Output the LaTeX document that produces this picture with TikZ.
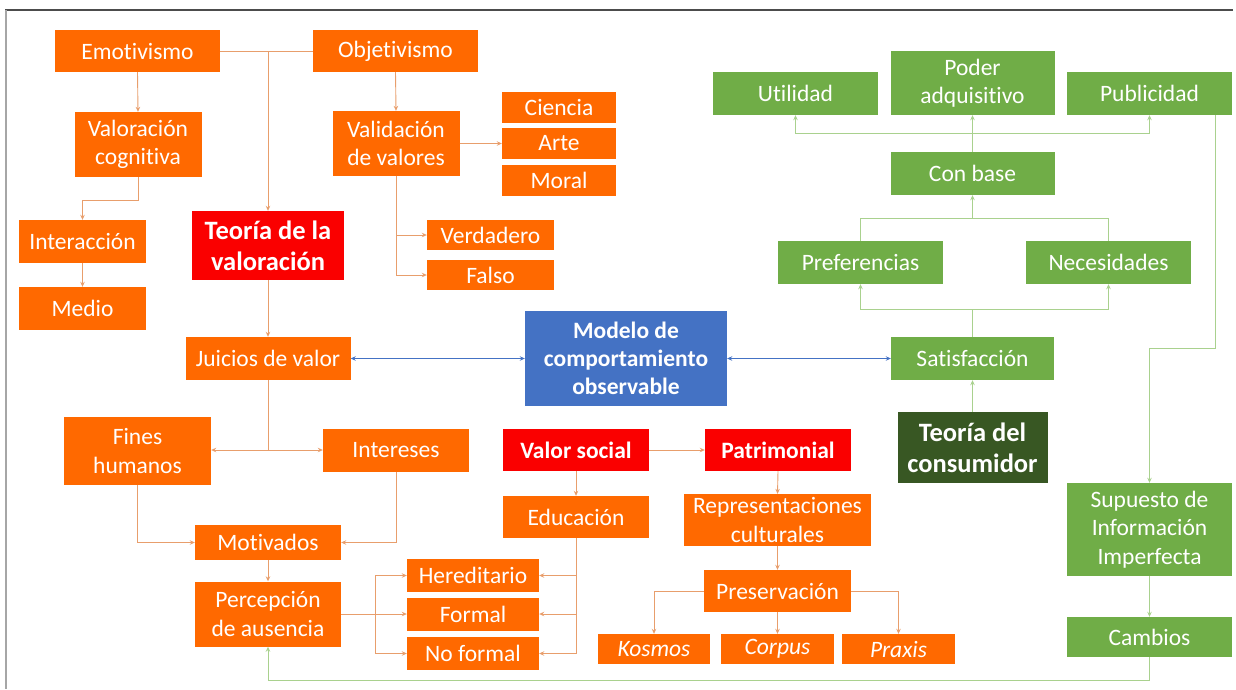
\documentclass[tikz,border=0pt]{standalone}
\usepackage{fontspec}
\setmainfont{Carlito}[Ligatures=NoCommon]
\usetikzlibrary{arrows.meta}
\definecolor{orF}{RGB}{255,105,0}
\definecolor{rdF}{RGB}{250,0,0}
\definecolor{blF}{RGB}{68,114,196}
\definecolor{grF}{RGB}{112,173,71}
\definecolor{dgF}{RGB}{56,87,35}
\definecolor{orL}{RGB}{232,158,108}
\definecolor{grL}{RGB}{169,209,142}
\definecolor{blL}{RGB}{68,114,196}
\tikzset{
  box/.style={rectangle, inner sep=0pt, align=center, text=white, font=\fontsize{23.5}{28.5}\selectfont},
  ob/.style={box, fill=orF},
  rb/.style={box, fill=rdF, font=\bfseries\fontsize{23.5}{28.5}\selectfont},
  gb/.style={box, fill=grF},
  itl/.style={font=\itshape\fontsize{23.5}{28.5}\selectfont},
  tip/.style={-{Stealth[length=5pt,width=4.5pt]}},
  oln/.style={draw=orL, line width=0.9pt},
  oarr/.style={oln, tip},
  gln/.style={draw=grL, line width=0.9pt},
  garr/.style={gln, tip},
  barr/.style={draw=blL, line width=0.9pt, {Stealth[length=5pt,width=4.5pt]}-{Stealth[length=5pt,width=4.5pt]}},
}
\begin{document}
\begin{tikzpicture}[x=1pt,y=-1pt]
\useasboundingbox (0,0) rectangle (1236,689);
% frame
\draw[draw=black!70, line width=1.2pt] (5,10) -- (1233,10);
\draw[draw=black!35, line width=2pt] (5.5,10) -- (5.5,689);

% orange left part
\node[ob, minimum width=165pt, minimum height=42pt] (emo) at (137.5,51) {Emotivismo};
\node[ob, minimum width=165pt, minimum height=42pt] (obj) at (395.5,51) {Objetivismo};
\node[ob, minimum width=127pt, minimum height=65pt] (vcog) at (138,144.5) {Valoración\\cognitiva};
\node[ob, minimum width=127pt, minimum height=65pt] (val) at (396,143.5) {Validación\\de valores};
\node[ob, minimum width=114pt, minimum height=31pt] (cie) at (559,107.5) {Ciencia};
\node[ob, minimum width=114pt, minimum height=31pt] (art) at (559,143.5) {Arte};
\node[ob, minimum width=114pt, minimum height=31pt] (mor) at (559,180) {Moral};
\node[ob, minimum width=127pt, minimum height=43pt] (inter) at (82.5,241.5) {Interacción};
\node[ob, minimum width=127pt, minimum height=43pt] (med) at (82.5,308.5) {Medio};
\node[rb, minimum width=152pt, minimum height=69pt, font=\bfseries\fontsize{26.5}{31}\selectfont] (teo) at (268,245.5) {Teoría de la\\valoración};
\node[ob, minimum width=127pt, minimum height=30pt] (ver) at (490.5,235) {Verdadero};
\node[ob, minimum width=127pt, minimum height=30pt] (fal) at (490.5,275) {Falso};
\node[ob, minimum width=165pt, minimum height=43pt] (jui) at (268,358.5) {Juicios de valor};
\node[box, fill=blF, minimum width=202pt, minimum height=95pt, font=\bfseries\fontsize{23.5}{28}\selectfont] (mod) at (626,358.5) {Modelo de\\comportamiento\\observable};
\node[ob, minimum width=147pt, minimum height=68pt] (fin) at (137.5,451) {Fines\\humanos};
\node[ob, minimum width=146pt, minimum height=43pt] (int) at (396,450) {Intereses};
\node[rb, minimum width=146pt, minimum height=42pt] (vs) at (576,450) {Valor social};
\node[rb, minimum width=146pt, minimum height=42pt] (pat) at (778,450) {Patrimonial};
\node[ob, minimum width=146pt, minimum height=42pt] (edu) at (576,517) {Educación};
\node[ob, minimum width=187pt, minimum height=52pt] (rep) at (777.5,520) {Representaciones\\culturales};
\node[ob, minimum width=146pt, minimum height=35pt] (mot) at (268,542.5) {Motivados};
\node[ob, minimum width=146pt, minimum height=65pt] (per) at (268,614) {Percepción\\de ausencia};
\node[ob, minimum width=132pt, minimum height=33pt] (her) at (473,575.5) {Hereditario};
\node[ob, minimum width=132pt, minimum height=33pt] (for) at (473,614) {Formal};
\node[ob, minimum width=132pt, minimum height=33pt] (nof) at (473,653.5) {No formal};
\node[ob, minimum width=147pt, minimum height=42pt] (pre) at (777.5,591) {Preservación};
\node[ob, itl, minimum width=112pt, minimum height=30pt] (kos) at (654,649) {Kosmos};
\node[ob, itl, minimum width=113pt, minimum height=30pt] (cor) at (777.5,649) {Corpus};
\node[ob, itl, minimum width=113pt, minimum height=30pt] (pra) at (898.5,649) {Praxis};

% green right part
\node[gb, minimum width=165pt, minimum height=43pt] (uti) at (795.5,93.5) {Utilidad};
\node[gb, minimum width=164pt, minimum height=64pt] (pod) at (972.5,83) {Poder\\adquisitivo};
\node[gb, minimum width=165pt, minimum height=43pt] (pub) at (1149.5,93.5) {Publicidad};
\node[gb, minimum width=164pt, minimum height=43pt] (cb) at (972.5,173.5) {Con base};
\node[gb, minimum width=165pt, minimum height=43pt] (prf) at (860.5,262.5) {Preferencias};
\node[gb, minimum width=165pt, minimum height=43pt] (nec) at (1108.5,262.5) {Necesidades};
\node[gb, minimum width=163pt, minimum height=43pt] (sat) at (972.5,358.5) {Satisfacción};
\node[box, fill=dgF, minimum width=150pt, minimum height=71pt, font=\bfseries\fontsize{26.5}{31}\selectfont] (tdc) at (972.5,447.5) {Teoría del\\consumidor};
\node[gb, minimum width=165pt, minimum height=93pt] (sup) at (1149.5,529.5) {Supuesto de\\Información\\Imperfecta};
\node[gb, minimum width=165pt, minimum height=40pt] (cam) at (1149.5,637) {Cambios};

% orange connectors
\draw[oln] (emo.east) -- (obj.west);
\draw[oarr] (emo.east -| teo.north) -- (teo.north);
\draw[oarr] (emo.south) -- (vcog.north);
\draw[oarr] (vcog.south) -- ++(0,23) -| (inter.north);
\draw[oarr] (inter.south) -- (med.north);
\draw[oarr] (obj.south) -- (val.north);
\draw[oarr] (val.east) -- (art.west);
\draw[oarr] (val.south) |- (ver.west);
\draw[oarr] (val.south) |- (fal.west);
\draw[oarr] (teo.south) -- (jui.north);
\draw[oarr] (jui.south) |- (int.west);
\draw[oarr] (jui.south |- int.west) -- (fin.east |- int.west);
\draw[oarr] (fin.south) |- (mot.west);
\draw[oarr] (int.south) |- (mot.east);
\draw[oarr] (mot.south) -- (per.north);
\draw[oarr] (per.east) -- (for.west);
\draw[oarr] ([xshift=34pt]per.east) |- (her.west);
\draw[oarr] ([xshift=34pt]per.east) |- (nof.west);
\draw[oarr] (edu.south) |- (nof.east);
\draw[oarr] (edu.south |- her.east) -- (her.east);
\draw[oarr] (edu.south |- for.east) -- (for.east);
\draw[oarr] (vs.east) -- (pat.west);
\draw[oarr] (vs.south) -- (edu.north);
\draw[oarr] (pat.south) -- (rep.north);
\draw[oarr] (rep.south) -- (pre.north);
\draw[oarr] (pre.west) -| (kos.north);
\draw[oarr] (pre.south) -- (cor.north);
\draw[oarr] (pre.east) -| (pra.north);

% blue connectors
\draw[barr] (jui.east) -- (mod.west);
\draw[barr] (mod.east) -- (sat.west);

% green connectors
\draw[garr] (tdc.north) -- (sat.south);
\coordinate (j1) at ([yshift=27pt]sat.north);
\draw[gln] (sat.north) -- (j1);
\draw[garr] (j1) -| (prf.south);
\draw[garr] (j1) -| (nec.south);
\coordinate (j2) at ([yshift=-23pt]cb.south);
\draw[gln] (prf.north) |- (j2) -| (nec.north);
\draw[garr] (j2) -- (cb.south);
\coordinate (j3) at ([yshift=18pt]cb.north);
\draw[garr] (cb.north) -- (pod.south);
\draw[garr] (j3) -| (uti.south);
\draw[garr] (j3) -| (pub.south);
\draw[garr] ([xshift=-17pt]pub.south east) -- ++(0,233) -| (sup.north);
\draw[garr] (sup.south) -- (cam.north);
\draw[garr] (cam.south) -- ++(0,23) -| (per.south);
\end{tikzpicture}
\end{document}
